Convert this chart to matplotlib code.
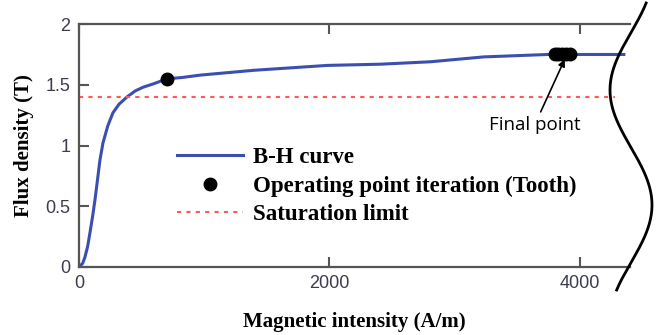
import numpy as np
import matplotlib.pyplot as plt
from matplotlib.lines import Line2D

# B-H curve of the tooth steel
H = [0, 30, 48, 70, 88, 110, 128, 150, 168, 192, 230, 272, 320, 384, 450, 512, 600, 704,
     820, 968, 1400, 1984, 2408, 2808, 3232, 3744, 4352]
B = [0, 0.03, 0.08, 0.17, 0.28, 0.42, 0.55, 0.73, 0.88, 1.02, 1.16, 1.27, 1.34, 1.40, 1.45,
     1.48, 1.51, 1.55, 1.56, 1.58, 1.62, 1.66, 1.67, 1.69, 1.73, 1.75, 1.75]

# operating point iterations
op_H = [704, 3800, 3830, 3860, 3890, 3920]
op_B = [1.55, 1.75, 1.75, 1.75, 1.75, 1.75]

B_sat = 1.4
sat_H = [0, 4280]

serif_bold = dict(family=['Liberation Serif', 'DejaVu Serif'], weight='bold')
tick_col = '#3c3c50'

fig = plt.figure(figsize=(6.63, 3.35), dpi=100)
ax = fig.add_axes([0.119, 0.203, 0.831, 0.725])

ax.plot(H, B, color='#3b4fae', lw=2.2, label='B-H curve')
ax.plot(op_H, op_B, 'o', color='black', ms=9, label='Operating point iteration (Tooth)')
ax.plot(sat_H, [B_sat, B_sat], color='#ff5a5a', lw=1.5, ls=(0, (2, 2.5)), label='Saturation limit')

ax.set_xlim(0, 4400)
ax.set_ylim(0, 2)
ax.set_xticks([0, 2000, 4000])
ax.set_yticks([0, 0.5, 1, 1.5, 2])
ax.set_yticklabels(['0', '0.5', '1', '1.5', '2'])
ax.tick_params(direction='in', length=7, width=1.5, color='#555555', top=True,
               labelcolor=tick_col, labelsize=13, pad=6)
for lab in ax.get_xticklabels() + ax.get_yticklabels():
    lab.set_family(['Liberation Sans', 'DejaVu Sans'])
for s in ['left', 'top', 'bottom']:
    ax.spines[s].set_color('#555555')
    ax.spines[s].set_linewidth(1.6)
ax.spines['right'].set_visible(False)

ax.set_xlabel('Magnetic intensity (A/m)', fontsize=15, labelpad=14, **serif_bold)
ax.set_ylabel('Flux density (T)', fontsize=15, labelpad=8, **serif_bold)

ax.annotate('Final point', xy=(3880, 1.71), xytext=(3640, 1.17),
            fontsize=13.5, family=['Open Sans', 'DejaVu Sans'], ha='center', va='center',
            arrowprops=dict(arrowstyle='-|>', color='black', lw=1.2, shrinkB=0, shrinkA=1,
                            mutation_scale=10))

leg = ax.legend(loc='upper left', bbox_to_anchor=(0.14, 0.58), frameon=False,
                handlelength=2.9, labelspacing=0.33, handletextpad=0.45,
                prop=dict(family=['Liberation Serif', 'DejaVu Serif'], weight='bold', size=16.5))

# wavy break line on the right edge
yy = np.linspace(3, 290, 200)
xx = 631 - 21 * np.cos(2 * np.pi * (yy - 90) / 230)
fig.add_artist(Line2D(xx / 663, 1 - yy / 335, color='black', lw=2))

fig.savefig('out.png', dpi=100)
